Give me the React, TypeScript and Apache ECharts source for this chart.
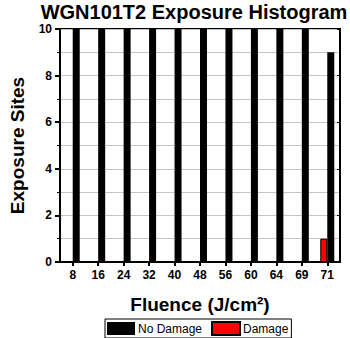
import React, { useEffect, useRef } from "react";
import * as echarts from "echarts";

const categories = ["8", "16", "24", "32", "40", "48", "56", "60", "64", "69", "71"];
const noDamage = [10, 10, 10, 10, 10, 10, 10, 10, 10, 10, 9];
const damage = [0, 0, 0, 0, 0, 0, 0, 0, 0, 0, 1];
const yTicks = [0, 2, 4, 6, 8, 10];

const FONT = "Liberation Sans, Arial, sans-serif";

export default function App() {
  const ref = useRef<HTMLDivElement>(null);
  useEffect(() => {
    if (!ref.current) return;
    const chart = echarts.init(ref.current, null, { renderer: "svg" });
    chart.setOption({
      animation: false,
      backgroundColor: "#fff",
      textStyle: { fontFamily: FONT },
      graphic: [
        {
          type: "text",
          x: 194,
          y: 2,
          style: {
            text: "WGN101T2 Exposure Histogram",
            align: "center",
            verticalAlign: "top",
            font: "bold 20px " + FONT,
            fill: "#000",
          },
        },
      ],
      grid: {
        left: 50,
        right: 10,
        top: 29,
        bottom: 76,
        show: true,
        borderColor: "#000",
        borderWidth: 2,
        backgroundColor: "transparent",
      },
      legend: {
        data: ["No Damage", "Damage"],
        left: 105,
        top: 319,
        orient: "horizontal",
        borderColor: "#000",
        borderWidth: 1,
        padding: [2, 3, 2, 2],
        itemWidth: 28,
        itemHeight: 13,
        itemGap: 9,
        icon: "rect",
        textStyle: { fontFamily: FONT, fontSize: 12, color: "#000", padding: [0, 0, 0, -2] },
      },
      xAxis: [
        {
          type: "category",
          data: categories,
          position: "bottom",
          axisLine: { show: true, lineStyle: { color: "#000", width: 2 } },
          axisTick: { show: true, alignWithLabel: true, length: 4, lineStyle: { color: "#000", width: 2 } },
          axisLabel: { fontFamily: FONT, fontSize: 12, fontWeight: "bold", color: "#000", margin: 7 },
          name: "Fluence (J/cm²)",
          nameLocation: "middle",
          nameGap: 33,
          nameTextStyle: { fontFamily: FONT, fontSize: 19, fontWeight: "bold", color: "#000" },
          splitLine: { show: false },
        },
        {
          type: "category",
          data: categories,
          position: "top",
          axisLine: { show: true, lineStyle: { color: "#000", width: 2 } },
          axisTick: { show: true, alignWithLabel: true, inside: true, length: 3, lineStyle: { color: "#000", width: 1 } },
          axisLabel: { show: false },
          splitLine: { show: false },
        },
      ],
      yAxis: [
        {
          type: "value",
          min: yTicks[0],
          max: yTicks[yTicks.length - 1],
          interval: 2,
          axisLine: { show: true, lineStyle: { color: "#000", width: 2 } },
          axisTick: { show: true, length: 5, lineStyle: { color: "#000", width: 2 } },
          minorTick: { show: true, splitNumber: 2, length: 3, lineStyle: { color: "#000", width: 1 } },
          axisLabel: { fontFamily: FONT, fontSize: 12, fontWeight: "bold", color: "#000", margin: 8 },
          splitLine: { show: true, lineStyle: { color: "#c4c4c4", width: 1 } },
          minorSplitLine: { show: true, lineStyle: { color: "#c4c4c4", width: 1 } },
          name: "Exposure Sites",
          nameLocation: "middle",
          nameGap: 33,
          nameTextStyle: { fontFamily: FONT, fontSize: 19, fontWeight: "bold", color: "#000" },
        },
        {
          type: "value",
          position: "right",
          min: yTicks[0],
          max: yTicks[yTicks.length - 1],
          interval: 2,
          axisLine: { show: true, lineStyle: { color: "#000", width: 2 } },
          axisTick: { show: true, inside: true, length: 3, lineStyle: { color: "#000", width: 1 } },
          axisLabel: { show: false },
          splitLine: { show: false },
        },
      ],
      series: [
        {
          name: "Damage",
          type: "bar",
          xAxisIndex: 0,
          yAxisIndex: 0,
          data: damage,
          barWidth: 7,
          barGap: "0%",
          itemStyle: { color: "#ff0000", borderColor: "#000", borderWidth: 1 },
        },
        {
          name: "No Damage",
          type: "bar",
          xAxisIndex: 0,
          yAxisIndex: 0,
          data: noDamage,
          barWidth: 7,
          barGap: "0%",
          itemStyle: { color: "#000000" },
        },
      ],
    });
    return () => chart.dispose();
  }, []);
  return (
    <div
      ref={ref}
      style={{ position: "fixed", left: 0, top: 0, width: 350, height: 338, background: "#fff" }}
    />
  );
}
